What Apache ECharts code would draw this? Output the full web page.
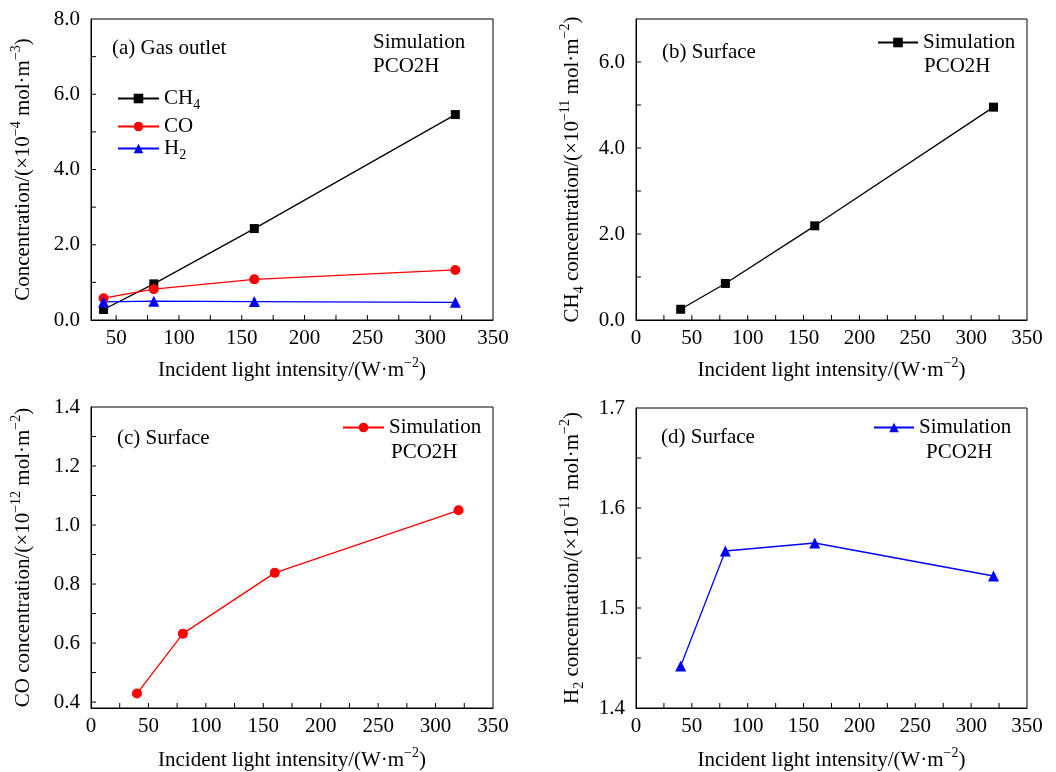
<!DOCTYPE html>
<html>
<head>
<meta charset="utf-8">
<script src="https://cdn.jsdelivr.net/npm/echarts@6/dist/echarts.min.js"></script>
<style>
  html, body { margin: 0; padding: 0; background: #fff; }
  #main { width: 1056px; height: 772px; }
</style>
</head>
<body>
<div id="main"></div>
<script>
const intensity = [40, 80, 160, 320]

// (a) gas outlet, x10^-4 mol/m3
const outletCH4 = [0.28, 0.96, 2.43, 5.46]
const outletCO = [0.58, 0.82, 1.08, 1.33]
const outletH2 = [0.48, 0.5, 0.49, 0.47]
// (b)-(d) surface
const surfCH4 = [0.25, 0.85, 2.19, 4.95]
const surfCO = [0.429, 0.632, 0.838, 1.05]
const surfH2 = [1.442, 1.557, 1.565, 1.532]

const xLabelsA = [50, 100, 150, 200, 250, 300, 350]
const xTicksA = [50, 75, 100, 125, 150, 175, 200, 225, 250, 275, 300, 325]
const xLabels = [0, 50, 100, 150, 200, 250, 300, 350]
const xTicks = [25, 50, 75, 100, 125, 150, 175, 200, 225, 250, 275, 300, 325]
const yLabelsA = [0, 2, 4, 6, 8]
const yTicksA = [1, 2, 3, 4, 5, 6, 7]
const yLabelsB = [0, 2, 4, 6]
const yTicksB = [1, 2, 3, 4, 5, 6]
const yLabelsC = [0.4, 0.6, 0.8, 1.0, 1.2, 1.4]
const yTicksC = [0.4, 0.5, 0.6, 0.7, 0.8, 0.9, 1.0, 1.1, 1.2, 1.3]
const yLabelsD = [1.4, 1.5, 1.6, 1.7]
const yTicksD = [1.45, 1.5, 1.55, 1.6, 1.65]

const FONT = '"Liberation Serif", "Times New Roman", serif'
const rich = {
  t: { fontSize: 21, fontFamily: FONT, color: '#000', lineHeight: 28 },
  sup: { fontSize: 14, fontFamily: FONT, color: '#000', lineHeight: 16, verticalAlign: 'top' },
  sub: { fontSize: 14, fontFamily: FONT, color: '#000', lineHeight: 18, verticalAlign: 'bottom' }
}

const pts = (ys) => intensity.map((x, i) => [x, ys[i]])

function xAxis(gridIndex, min, labels, gap) {
  return {
    type: 'value', gridIndex, min, max: 350,
    name: '{t|Incident light intensity/(W·m}{sup|−2}{t|)}',
    nameLocation: 'middle', nameGap: gap,
    nameTextStyle: { rich },
    axisLine: { show: true, lineStyle: { color: '#000', width: 1 } },
    axisTick: { show: false },
    axisLabel: { customValues: labels, margin: 8, fontSize: 21, fontFamily: FONT, color: '#000' },
    splitLine: { show: false }
  }
}

function yAxis(gridIndex, min, max, labels, name, gap) {
  return {
    type: 'value', gridIndex, min, max,
    name, nameLocation: 'middle', nameGap: gap,
    nameTextStyle: { rich },
    axisLine: { show: true, lineStyle: { color: '#000', width: 1 } },
    axisTick: { show: false },
    axisLabel: {
      customValues: labels, margin: 11, fontSize: 21, fontFamily: FONT, color: '#000',
      formatter: (v) => v.toFixed(1)
    },
    splitLine: { show: false }
  }
}

// inward tick marks, placed through the axis scales
function ticks(gi, dir, values, base) {
  return {
    type: 'custom', xAxisIndex: gi, yAxisIndex: gi, silent: true, z: 10, clip: false,
    data: values.map((v) => (dir === 'x' ? [v, base] : [base, v])),
    renderItem: (params, api) => {
      const p = api.coord([api.value(0), api.value(1)])
      const shape = dir === 'x'
        ? { x1: p[0], y1: p[1], x2: p[0], y2: p[1] - 5 }
        : { x1: p[0], y1: p[1], x2: p[0] + 5, y2: p[1] }
      return { type: 'line', shape, style: { stroke: '#000', lineWidth: 1 } }
    }
  }
}

function line(name, xi, data, color, symbol, size) {
  return {
    name, type: 'line', xAxisIndex: xi, yAxisIndex: xi, data: pts(data),
    symbol, symbolSize: size,
    lineStyle: { color, width: 1.3 },
    itemStyle: { color },
    emphasis: { disabled: true }
  }
}

function legend(names, left, top, width) {
  return {
    data: names, left, top, padding: 0, orient: 'vertical',
    itemWidth: width, itemHeight: 12, selectedMode: false,
    formatter: (n) => ({ CH4: '{t|CH}{sub|4}', CO: '{t|CO}', H2: '{t|H}{sub|2}' }[n] || '{t|Simulation}'),
    textStyle: { rich }
  }
}

function label(text, x, y) {
  return {
    type: 'text', x, y,
    style: { text, font: '21px ' + FONT, fill: '#000', textVerticalAlign: 'middle' }
  }
}

const grid = (left, top, width, height) => ({
  left, top, width, height, show: true, borderColor: '#000', borderWidth: 1, outerBoundsMode: 'none'
})

const chart = echarts.init(document.getElementById('main'))
chart.setOption({
  animation: false,
  backgroundColor: '#fff',
  grid: [grid(91, 19, 402, 301), grid(636, 19, 391, 301), grid(91, 407, 402, 301), grid(636, 408, 391, 300)],
  xAxis: [
    xAxis(0, 30, xLabelsA, 36),
    xAxis(1, 0, xLabels, 36),
    xAxis(2, 0, xLabels, 38),
    xAxis(3, 0, xLabels, 38)
  ],
  yAxis: [
    yAxis(0, 0, 8, yLabelsA, '{t|Concentration/(×10}{sup|−4}{t| mol·m}{sup|−3}{t|)}', 54),
    yAxis(1, 0, 7, yLabelsB, '{t|CH}{sub|4}{t| concentration/(×10}{sup|−11}{t| mol·m}{sup|−2}{t|)}', 50),
    yAxis(2, 0.38, 1.4, yLabelsC, '{t|CO concentration/(×10}{sup|−12}{t| mol·m}{sup|−2}{t|)}', 54),
    yAxis(3, 1.4, 1.7, yLabelsD, '{t|H}{sub|2}{t| concentration/(×10}{sup|−11}{t| mol·m}{sup|−2}{t|)}', 50)
  ],
  legend: [
    legend(['CH4'], 117, 88, 41),
    legend(['CO'], 117, 116, 41),
    legend(['H2'], 117, 138, 41),
    legend(['SimB'], 877, 32, 40),
    legend(['SimC'], 342, 417, 41),
    legend(['SimD'], 873, 417, 40)
  ],
  series: [
    line('CH4', 0, outletCH4, '#000', 'rect', 9),
    line('CO', 0, outletCO, '#ff0000', 'circle', 10),
    line('H2', 0, outletH2, '#0000ff', 'triangle', 11),
    line('SimB', 1, surfCH4, '#000', 'rect', 9),
    line('SimC', 2, surfCO, '#ff0000', 'circle', 10),
    line('SimD', 3, surfH2, '#0000ff', 'triangle', 11),
    ticks(0, 'x', xTicksA, 0), ticks(0, 'y', yTicksA, 30),
    ticks(1, 'x', xTicks, 0), ticks(1, 'y', yTicksB, 0),
    ticks(2, 'x', xTicks, 0.38), ticks(2, 'y', yTicksC, 0),
    ticks(3, 'x', xTicks, 1.4), ticks(3, 'y', yTicksD, 0)
  ],
  graphic: [
    label('(a) Gas outlet', 112, 48),
    label('Simulation', 373, 42),
    label('PCO2H', 373, 66),
    label('(b) Surface', 662, 52),
    label('PCO2H', 924, 66),
    label('(c) Surface', 117, 438),
    label('PCO2H', 391, 452),
    label('(d) Surface', 661, 437),
    label('PCO2H', 926, 452)
  ]
})
</script>
</body>
</html>
